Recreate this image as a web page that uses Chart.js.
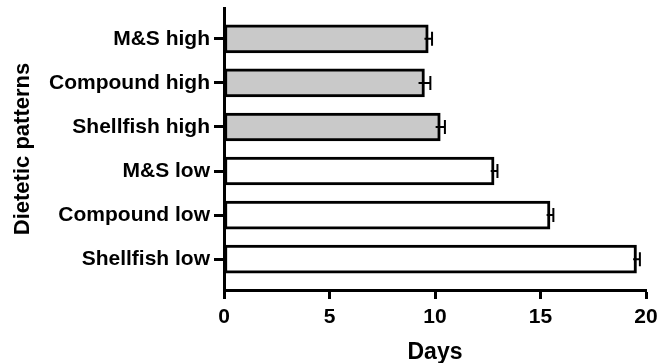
<!DOCTYPE html>
<html>
<head>
<meta charset="utf-8">
<script src="https://cdn.jsdelivr.net/npm/chart.js@4/dist/chart.umd.min.js"></script>
<style>
  html, body { margin: 0; padding: 0; background: #fff; }
  canvas { display: block; }
</style>
</head>
<body>
<canvas id="chart" width="657" height="363"></canvas>
<script>
// dietetic patterns, top to bottom
var categories = ['M&S high', 'Compound high', 'Shellfish high', 'M&S low', 'Compound low', 'Shellfish low'];
var days = [9.68, 9.5, 10.25, 12.8, 15.45, 19.55];
var errors = [0.18, 0.28, 0.22, 0.16, 0.16, 0.16];
var fills = ['#c9c9c9', '#c9c9c9', '#c9c9c9', '#ffffff', '#ffffff', '#ffffff'];
var xTicks = [0, 5, 10, 15, 20];

var FONT = 'Liberation Sans, Arial, Helvetica, sans-serif';

var errorBars = {
    id: 'errorBars',
    afterDatasetsDraw: function (chart) {
        var ctx = chart.ctx;
        var x = chart.scales.x;
        var y = chart.scales.y;
        ctx.save();
        ctx.strokeStyle = '#000';
        ctx.lineWidth = 2;
        for (var i = 0; i < days.length; i++) {
            var py = y.getPixelForValue(i);
            var x0 = x.getPixelForValue(days[i] - errors[i]);
            var x1 = x.getPixelForValue(days[i] + errors[i]);
            ctx.beginPath();
            ctx.moveTo(x0, py);
            ctx.lineTo(x1, py);
            ctx.moveTo(x1, py - 7);
            ctx.lineTo(x1, py + 7);
            ctx.stroke();
        }
        ctx.restore();
    }
};

new Chart(document.getElementById('chart').getContext('2d'), {
    type: 'bar',
    data: {
        datasets: [{
            data: days.map(function (v, i) { return { x: v, y: i }; }),
            backgroundColor: fills,
            borderColor: '#000',
            borderWidth: 3,
            borderSkipped: false,
            barThickness: 28
        }]
    },
    options: {
        indexAxis: 'y',
        responsive: false,
        animation: false,
        layout: { padding: { top: 8, right: 11, left: 0, bottom: 0 } },
        plugins: { legend: { display: false }, tooltip: { enabled: false } },
        scales: {
            x: {
                type: 'linear',
                min: 0,
                max: 20,
                afterFit: function (s) {
                    s.height = 73;
                    s.paddingLeft = 0;
                    s.paddingRight = 0;
                },
                afterBuildTicks: function (s) {
                    s.ticks = xTicks.map(function (v) { return { value: v }; });
                },
                border: { display: true, color: '#000', width: 3 },
                grid: { drawOnChartArea: false, color: '#000', tickLength: 9, tickWidth: 3, tickColor: '#000' },
                ticks: { color: '#000', padding: 6, font: { family: FONT, size: 21, weight: 'bold' } },
                title: {
                    display: true,
                    text: 'Days',
                    color: '#000',
                    padding: { top: 0, bottom: -1 },
                    font: { family: FONT, size: 23, weight: 'bold', lineHeight: 1 }
                }
            },
            y: {
                type: 'linear',
                reverse: true,
                offset: false,
                min: -0.7,
                max: 5.7,
                afterFit: function (s) {
                    s.width = 224;
                    s.paddingTop = 0;
                    s.paddingBottom = 0;
                },
                afterBuildTicks: function (s) {
                    s.ticks = categories.map(function (c, i) { return { value: i }; });
                },
                border: { display: true, color: '#000', width: 3 },
                grid: { offset: false, drawOnChartArea: false, color: '#000', tickLength: 10, tickWidth: 3, tickColor: '#000' },
                ticks: {
                    color: '#000',
                    padding: 4,
                    font: { family: FONT, size: 21, weight: 'bold' },
                    callback: function (v) { return categories[v]; }
                },
                title: {
                    display: true,
                    text: 'Dietetic patterns',
                    color: '#000',
                    padding: { top: 10, bottom: 0 },
                    font: { family: FONT, size: 22, weight: 'bold' }
                }
            }
        }
    },
    plugins: [errorBars]
});
</script>
</body>
</html>
